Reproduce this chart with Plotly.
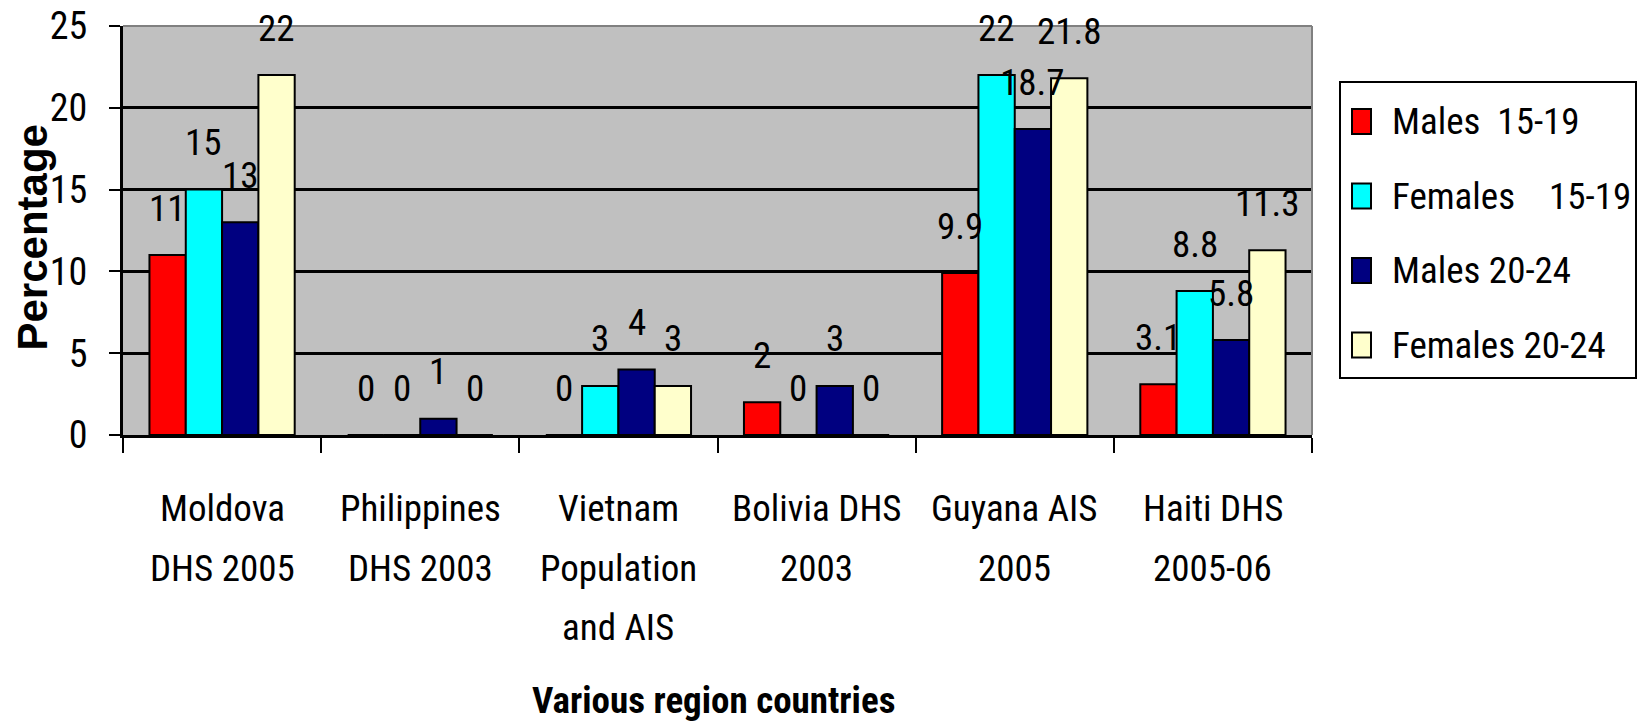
import plotly.graph_objects as go

# ---------------- data ----------------
categories = ["Moldova<br>DHS 2005", "Philippines<br>DHS 2003",
              "Vietnam<br>Population<br>and AIS", "Bolivia DHS<br>2003",
              "Guyana AIS<br>2005", "Haiti DHS<br>2005-06"]
series_names = ["Males  15-19", "Females    15-19", "Males 20-24", "Females 20-24"]
males_15_19 = [11, 0, 0, 2, 9.9, 3.1]
females_15_19 = [15, 0, 3, 0, 22, 8.8]
males_20_24 = [13, 1, 4, 3, 18.7, 5.8]
females_20_24 = [22, 0, 3, 0, 21.8, 11.3]
y_ticks = [0, 5, 10, 15, 20, 25]
x_title = "Various region countries"
y_title = "Percentage"

series_values = [males_15_19, females_15_19, males_20_24, females_20_24]
colors = ["#FF0000", "#00FFFF", "#000080", "#FFFFCC"]

NARROW = "Roboto Condensed, Liberation Sans Narrow, DejaVu Sans Condensed, sans-serif"
WIDE = "Liberation Sans, Arial, sans-serif"
FS = 37

BARGAP = 0.267
n_series = len(series_values)
bar_w = (1 - BARGAP) / n_series
x_idx = list(range(len(categories)))

fig = go.Figure()
for name, vals, col in zip(series_names, series_values, colors):
    fig.add_trace(go.Bar(
        x=x_idx, y=vals, name=name, showlegend=False,
        marker=dict(color=col, line=dict(color="black", width=2)),
    ))

annotations = []
# data labels
for j, vals in enumerate(series_values):
    off = (j - (n_series - 1) / 2) * bar_w
    for i, v in enumerate(vals):
        annotations.append(dict(
            x=i + off, y=v, xref="x", yref="y", text=f"{v:g}", showarrow=False,
            yanchor="middle", xanchor="center", yshift=47,
            font=dict(family=NARROW, size=FS, color="black")))

# category labels (one annotation per line)
line_shifts = [-73, -133, -192]
for i, cat in enumerate(categories):
    for k, line in enumerate(cat.split("<br>")):
        annotations.append(dict(
            x=i, y=0, xref="x", yref="paper", text=line, showarrow=False,
            xanchor="center", yanchor="middle", yshift=line_shifts[k],
            font=dict(family=NARROW, size=FS, color="black")))

# axis titles
annotations.append(dict(
    x=0.5, y=0, xref="paper", yref="paper", text=f"<b>{x_title}</b>", showarrow=False,
    xanchor="center", yanchor="middle", yshift=-265, xshift=-4,
    font=dict(family=NARROW, size=FS, color="black")))
annotations.append(dict(
    x=0, y=0.5, xref="paper", yref="paper", text=f"<b>{y_title}</b>", showarrow=False,
    xanchor="center", yanchor="middle", xshift=-91, yshift=-7, textangle=-90,
    font=dict(family=WIDE, size=42, color="black")))

# manual legend (page pixel positions relative to the plot area)
PW, PH = 1189.0, 409.0   # plot area pixel size
X0, Y0 = 123.0, 435.0    # plot area origin (left, bottom) in page pixels


def px(xp):
    return (xp - X0) / PW


def py(yp):
    return (Y0 - yp) / PH


shapes = [
    dict(type="rect", xref="paper", yref="paper", x0=px(1340), x1=px(1636),
         y0=py(378), y1=py(82), line=dict(color="black", width=2),
         fillcolor="white", layer="above"),
    dict(type="line", xref="paper", yref="paper", x0=0, x1=1, y0=1, y1=1,
         line=dict(color="#808080", width=2), layer="above"),
    dict(type="line", xref="paper", yref="paper", x0=1, x1=1, y0=0, y1=1,
         line=dict(color="#808080", width=2), layer="above"),
]
item_centers = [121.5, 196, 270.5, 345]
for name, col, cy in zip(series_names, colors, item_centers):
    shapes.append(dict(type="rect", xref="paper", yref="paper",
                       x0=px(1352), x1=px(1371), y0=py(cy + 12.5), y1=py(cy - 12.5),
                       line=dict(color="black", width=2), fillcolor=col, layer="above"))
    annotations.append(dict(
        x=px(1390), y=py(cy), xref="paper", yref="paper",
        text=name.replace(" ", "\u00a0"), showarrow=False,
        xanchor="left", yanchor="middle",
        font=dict(family=NARROW, size=FS, color="black")))

W, H = 1637, 720  # page body has an 8px margin
fig.update_layout(
    width=W, height=H,
    margin=dict(l=115, r=W - 1304, t=18, b=H - 427, pad=0, autoexpand=False),
    paper_bgcolor="white", plot_bgcolor="#C0C0C0",
    barmode="group", bargap=BARGAP, bargroupgap=0,
    showlegend=False,
    annotations=annotations, shapes=shapes,
    font=dict(family=NARROW, size=FS, color="black"),
)
fig.update_xaxes(
    range=[-0.5, len(categories) - 0.5],
    tickvals=[i - 0.5 for i in range(len(categories) + 1)],
    showticklabels=False, ticks="outside", ticklen=15, tickwidth=2, tickcolor="black",
    showline=True, linecolor="black", linewidth=3, showgrid=False, zeroline=False,
    automargin=False,
)
fig.update_yaxes(
    range=[0, 25], tickvals=y_ticks, ticks="outside", ticklen=11, tickwidth=2,
    tickcolor="black", ticklabelstandoff=14, ticklabeloverflow="allow",
    tickfont=dict(family=NARROW, size=FS + 1, color="black"),
    showline=True, linecolor="black", linewidth=3,
    showgrid=True, gridcolor="black", gridwidth=3, zeroline=False,
    automargin=False,
)

fig.write_html("out.html")
